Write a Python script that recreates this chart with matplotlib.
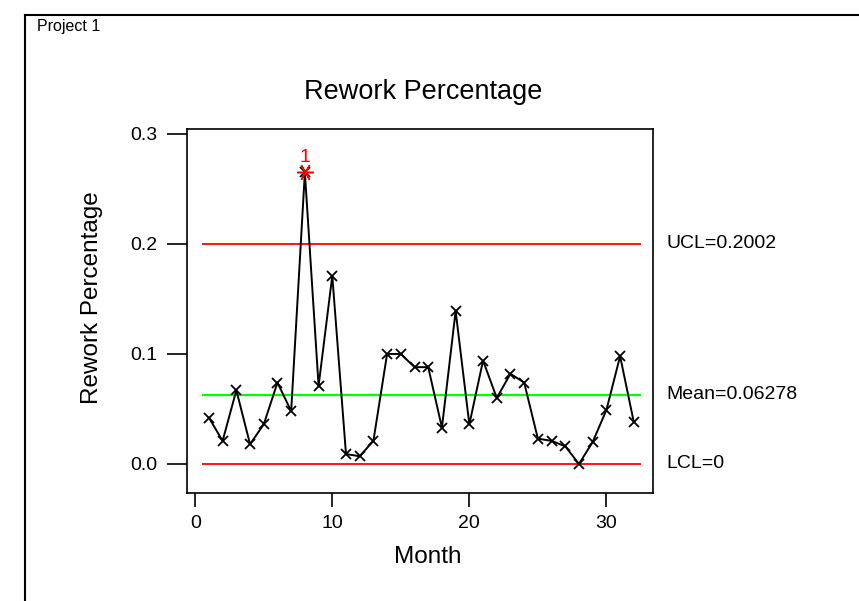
import matplotlib.pyplot as plt
from matplotlib.lines import Line2D

plt.rcParams['font.family'] = ['Liberation Sans', 'DejaVu Sans']

months = list(range(1, 33))
rework = [0.042, 0.021, 0.067, 0.018, 0.036, 0.074, 0.048, 0.265,
          0.071, 0.171, 0.009, 0.007, 0.021, 0.100, 0.100, 0.088,
          0.088, 0.033, 0.139, 0.036, 0.094, 0.060, 0.082, 0.074,
          0.023, 0.021, 0.016, 0.000, 0.020, 0.049, 0.098, 0.038]
ucl = 0.2002
mean = 0.06278
lcl = 0.0
flagged = [8]

W, H = 859, 601
fig = plt.figure(figsize=(W / 100, H / 100), dpi=100)
ax = fig.add_axes([187 / W, 1 - 493 / H, (653 - 187) / W, (493 - 129) / H])

# outer frame (top and left edges)
fig.add_artist(Line2D([25 / W, 1], [1 - 15 / H, 1 - 15 / H], color='black', lw=1.5))
fig.add_artist(Line2D([25 / W, 25 / W], [1 - 15 / H, 0], color='black', lw=1.5))
fig.text(37 / W, 1 - 27 / H, 'Project 1', fontsize=11.5, va='center', ha='left')

ax.plot(months, rework, color='black', lw=1.4, marker='x', ms=7, mew=1.3, zorder=3)
for m in flagged:
    v = rework[m - 1]
    ax.plot(m, v, marker=(6, 2, 90), color='red', ms=12, mew=1.1, zorder=4)
    ax.text(m, v + 0.006, '1', color='red', fontsize=14, ha='center', va='bottom')

ax.hlines([ucl, lcl], 0.5, 32.5, color='red', lw=1.3, zorder=2)
ax.hlines(mean, 0.5, 32.5, color='#00ff00', lw=1.6, zorder=2)

ax.set_xlim(-0.6, 33.4)
ax.set_ylim(-0.0264, 0.3045)
ax.set_xticks([0, 10, 20, 30])
ax.set_yticks([0.0, 0.1, 0.2, 0.3])
ax.set_yticklabels(['0.0', '0.1', '0.2', '0.3'])
ax.tick_params(direction='out', width=1.2, labelsize=14, top=False, right=False)
ax.tick_params(axis='y', length=14.5, pad=7)
ax.tick_params(axis='x', length=10, pad=6)
for s in ax.spines.values():
    s.set_linewidth(1.2)

fig.text(423 / W, 1 - 92 / H, 'Rework Percentage', fontsize=19.5, ha='center', va='center')
fig.text(428 / W, 1 - 557 / H, 'Month', fontsize=17.5, ha='center', va='center')
fig.text(92 / W, 1 - 298 / H, 'Rework Percentage', fontsize=17.5, ha='center',
         va='center', rotation=90)

for val, lab in [(ucl, 'UCL=0.2002'), (mean, 'Mean=0.06278'), (lcl, 'LCL=0')]:
    ax.text(1.028, val, lab, transform=ax.get_yaxis_transform(), fontsize=14,
            va='center', ha='left')

fig.savefig('out.png', dpi=100)
